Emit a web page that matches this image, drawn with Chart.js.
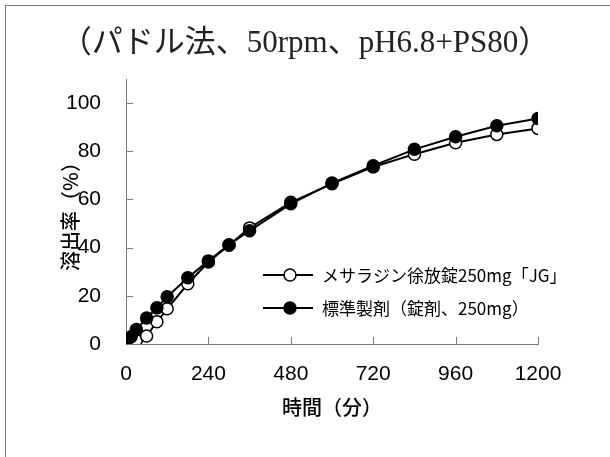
<!DOCTYPE html>
<html lang="ja">
<head>
<meta charset="utf-8">
<script src="https://cdn.jsdelivr.net/npm/chart.js@4.4.1/dist/chart.umd.min.js"></script>
<style>
  html, body { margin: 0; padding: 0; background: #fff; }
  #wrap { position: relative; width: 610px; height: 457px; }
  #wrap::after {
    content: '';
    position: absolute;
    left: 5px; top: 5px; right: 0; bottom: 0;
    border-top: 1px solid #7a7a7a;
    border-left: 1px solid #7a7a7a;
    pointer-events: none;
  }
</style>
</head>
<body>
<div id="wrap"><canvas id="myChart" width="610" height="457"></canvas></div>
<script>
const titleText = '（パドル法、50rpm、pH6.8+PS80）'
const xTitle = '時間（分）'
const yTitle = '溶出率（%）'
const seriesNames = ['メサラジン徐放錠250mg「JG」', '標準製剤（錠剤、250mg）']

// sampling times (min)
const times = [0, 15, 30, 60, 90, 120, 180, 240, 300, 360, 480, 600, 720, 840, 960, 1080, 1200]
// dissolution (%)
const jgValues = [0, 0.5, 1.5, 3.3, 9.2, 14.6, 25, 34, 41, 48.2, 58.8, 66.5, 73.5, 78.8, 83.5, 87, 89.5]
const refValues = [0, 3, 6, 10.8, 15, 19.6, 27.5, 34.5, 41.2, 47, 58.2, 66.8, 74, 80.8, 86, 90.6, 93.6]

const xTicks = [0, 240, 480, 720, 960, 1200]
const yTicks = [0, 20, 40, 60, 80, 100]

const clrLine = '#000'
const clrAxis = '#7a7a7a'
const sansJP = '"Noto Sans CJK JP", "Noto Sans", sans-serif'
const tickFont = { family: '"Liberation Sans", Arial, sans-serif', size: 21 }

const toPoints = (values) => values.map((v, i) => ({ x: times[i], y: v }))

// tick marks pointing into the plot, like the original figure
const innerTicks = {
  id: 'innerTicks',
  beforeDatasetsDraw(chart) {
    const { ctx, chartArea, scales } = chart
    const len = 7
    ctx.save()
    ctx.strokeStyle = clrAxis
    ctx.lineWidth = 1
    ctx.beginPath()
    yTicks.forEach((v) => {
      const y = Math.round(scales.y.getPixelForValue(v)) + 0.5
      ctx.moveTo(chartArea.left, y)
      ctx.lineTo(chartArea.left + len, y)
    })
    xTicks.forEach((v) => {
      const x = Math.round(scales.x.getPixelForValue(v)) + 0.5
      ctx.moveTo(x, chartArea.bottom)
      ctx.lineTo(x, chartArea.bottom - len)
    })
    ctx.stroke()
    ctx.restore()
  },
}

// legend drawn as line + marker samples
const lineLegend = {
  id: 'lineLegend',
  afterDraw(chart) {
    const { ctx, chartArea } = chart
    const x0 = chartArea.left + 137
    const rowGap = 33
    ctx.save()
    chart.data.datasets.forEach((ds, i) => {
      const y = chartArea.top + 196 + i * rowGap
      ctx.strokeStyle = ds.borderColor
      ctx.lineWidth = ds.borderWidth
      ctx.beginPath()
      ctx.moveTo(x0, y)
      ctx.lineTo(x0 + 50, y)
      ctx.stroke()
      ctx.beginPath()
      ctx.arc(x0 + 27, y, ds.pointRadius, 0, Math.PI * 2)
      ctx.fillStyle = ds.pointBackgroundColor
      ctx.fill()
      ctx.lineWidth = ds.pointBorderWidth
      ctx.strokeStyle = ds.pointBorderColor
      ctx.stroke()
      ctx.fillStyle = '#000'
      ctx.font = `17px ${sansJP}`
      ctx.textAlign = 'left'
      ctx.textBaseline = 'middle'
      ctx.fillText(ds.label, x0 + 59, y + 1)
    })
    ctx.restore()
  },
}

const data = {
  datasets: [
    {
      label: seriesNames[0],
      data: toPoints(jgValues),
      borderColor: clrLine,
      borderWidth: 2,
      pointRadius: 6,
      pointBackgroundColor: '#fff',
      pointBorderColor: clrLine,
      pointBorderWidth: 1.5,
      order: 1,
    },
    {
      label: seriesNames[1],
      data: toPoints(refValues),
      borderColor: clrLine,
      borderWidth: 2,
      pointRadius: 6,
      pointBackgroundColor: clrLine,
      pointBorderColor: clrLine,
      pointBorderWidth: 1.5,
      order: 0,
    },
  ],
}

const config = {
  type: 'line',
  data: data,
  options: {
    responsive: false,
    animation: false,
    layout: { padding: 0 },
    scales: {
      x: {
        type: 'linear',
        min: 0,
        max: 1200,
        afterBuildTicks: (scale) => { scale.ticks = xTicks.map((v) => ({ value: v })) },
        afterFit: (scale) => { scale.height = 113 },
        grid: { display: false },
        border: { display: true, color: clrAxis, width: 1 },
        ticks: {
          color: '#000',
          padding: 10,
          maxRotation: 0,
          font: tickFont,
          callback: (value) => String(value),
        },
        title: {
          display: true,
          text: xTitle,
          color: '#000',
          padding: { top: 0, bottom: 38 },
          font: { family: sansJP, size: 20, weight: 500 },
        },
      },
      y: {
        type: 'linear',
        min: 0,
        max: 110,
        afterBuildTicks: (scale) => { scale.ticks = yTicks.map((v) => ({ value: v })) },
        afterFit: (scale) => { scale.width = 126 },
        grid: { display: false },
        border: { display: true, color: clrAxis, width: 1 },
        ticks: {
          color: '#000',
          padding: 17,
          font: tickFont,
        },
        title: {
          display: true,
          text: yTitle,
          color: '#000',
          padding: { top: 58, bottom: 0 },
          font: { family: sansJP, size: 20, weight: 500 },
        },
      },
      // empty right axis, only keeps the space right of the plot
      yRight: {
        position: 'right',
        display: true,
        grid: { display: false },
        border: { display: false },
        ticks: { display: false },
        afterFit: (scale) => { scale.width = 72 },
      },
    },
    plugins: {
      legend: { display: false },
      tooltip: { enabled: false },
      title: {
        display: true,
        text: titleText,
        color: '#222',
        padding: { top: 28, bottom: 20 },
        font: { family: '"Liberation Serif", "Noto Sans CJK JP", serif', size: 31, weight: 'normal', lineHeight: 1.0 },
      },
    },
  },
  plugins: [innerTicks, lineLegend],
}

const myChart = new Chart(document.getElementById('myChart'), config)
</script>
</body>
</html>
